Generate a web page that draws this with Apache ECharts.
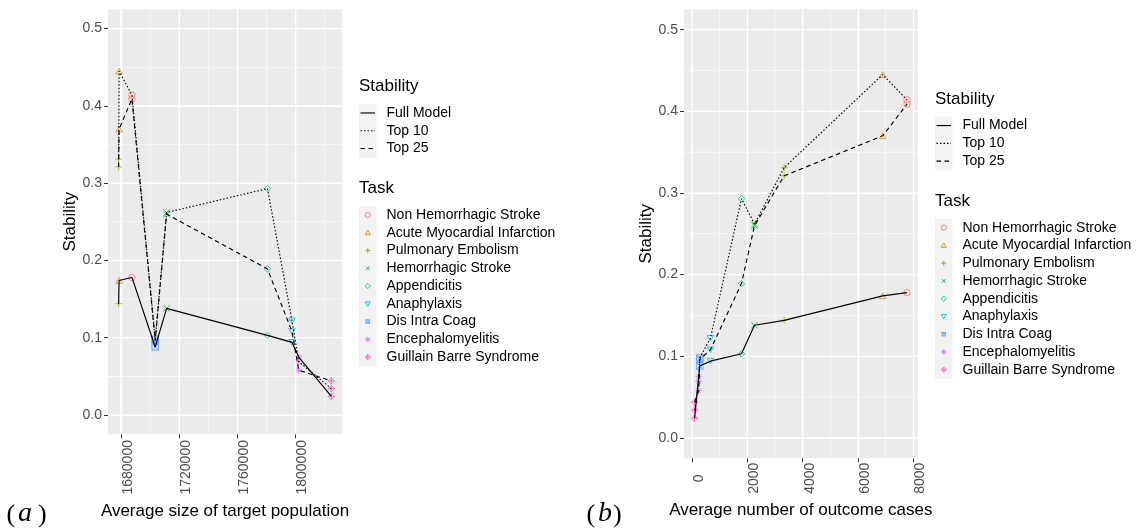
<!DOCTYPE html>
<html>
<head>
<meta charset="utf-8">
<script src="https://cdn.jsdelivr.net/npm/echarts@6/dist/echarts.min.js"></script>
<style>
html,body{margin:0;padding:0;background:#fff}
#chart{width:1143px;height:529px}
</style>
</head>
<body>
<div id="chart"></div>
<script>
// values
var tasks=['Non Hemorrhagic Stroke','Acute Myocardial Infarction','Pulmonary Embolism','Hemorrhagic Stroke','Appendicitis','Anaphylaxis','Dis Intra Coag','Encephalomyelitis','Guillain Barre Syndrome'];
var popSize=[1687550,1678700,1678400,1711350,1780650,1797530,1703530,1802130,1824560];
var outcomeCases=[7772,6892,3330,2259,1788,666,280,243,95];
var fullModel=[0.178,0.174,0.144,0.138,0.103,0.094,0.088,0.075,0.024];
var top10=[0.414,0.445,0.331,0.262,0.293,0.122,0.098,0.069,0.034];
var top25=[0.409,0.370,0.321,0.260,0.189,0.108,0.096,0.058,0.044];
var stabilityNames=['Full Model','Top 10','Top 25'];
var yTicks=[0,0.1,0.2,0.3,0.4,0.5];
var yMinor=[0.05,0.15,0.25,0.35,0.45];
var popTicks=[1680000,1720000,1760000,1800000];
var popMinor=[1700000,1740000,1780000,1820000];
var caseTicks=[0,2000,4000,6000,8000];
var caseMinor=[1000,3000,5000,7000];

var colors=['#F8766D','#D39200','#93AA00','#00BA38','#00C19F','#00B9E3','#619CFF','#DB72FB','#FF61C3'];
var shapes=[
 'M0,5A5,5,0,1,1,10,5A5,5,0,1,1,0,5Z',
 'M5,0L10,8.66L0,8.66Z',
 'M5,0L5,10M0,5L10,5',
 'M0,0L10,10M10,0L0,10',
 'M5,0L10,5L5,10L0,5Z',
 'M0,0L10,0L5,8.66Z',
 'M0,0L10,0L10,10L0,10ZM0,0L10,10M10,0L0,10',
 'M5,0L5,10M0,5L10,5M1.5,1.5L8.5,8.5M8.5,1.5L1.5,8.5',
 'M5,0L10,5L5,10L0,5ZM5,0L5,10M0,5L10,5'
];
var dashes=['solid',[1.5,2],[4.5,3.5]];
var font='"Liberation Sans", Arial, sans-serif';
var stabVals=[fullModel,top10,top25];
var panels=[{left:108,top:9.3,width:234,height:425},{left:684,top:9.3,width:233.7,height:449}];

function pad(arr){
 var lo=Math.min.apply(null,arr),hi=Math.max.apply(null,arr),s=(hi-lo)*0.05;
 return [lo-s,hi+s];
}
var popRange=pad(popSize),caseRange=pad(outcomeCases),yRange=[-0.025,0.525];

function pairs(xs,ys){
 var p=xs.map(function(x,i){return [x,ys[i]]});
 p.sort(function(a,b){return a[0]-b[0]});
 return p;
}

// white panel grid: thin rect symbols placed on the axis values
function gridLines(k,xRange,xMaj,xMin){
 var p=panels[k],out=[];
 var my=(yRange[0]+yRange[1])/2,mx=(xRange[0]+xRange[1])/2;
 function add(pts,size){
  out.push({type:'scatter',xAxisIndex:k,yAxisIndex:k,data:pts,symbol:'rect',symbolSize:size,z:3,
   itemStyle:{color:'#ffffff',opacity:1},emphasis:{disabled:true},tooltip:{show:false}});
 }
 add(xMin.map(function(v){return [v,my]}),[0.6,p.height]);
 add(yMinor.map(function(v){return [mx,v]}),[p.width,0.6]);
 add(xMaj.map(function(v){return [v,my]}),[1.2,p.height]);
 add(yTicks.map(function(v){return [mx,v]}),[p.width,1.2]);
 return out;
}

var series=[].concat(gridLines(0,popRange,popTicks,popMinor),gridLines(1,caseRange,caseTicks,caseMinor));
[popSize,outcomeCases].forEach(function(xs,k){
 tasks.forEach(function(t,i){
  series.push({type:'scatter',name:t,xAxisIndex:k,yAxisIndex:k,symbol:'path://'+shapes[i],symbolSize:6.5,symbolKeepAspect:true,
   itemStyle:{color:'rgba(0,0,0,0)',borderColor:colors[i],borderWidth:1},
   data:stabVals.map(function(v){return [xs[i],v[i]]}),z:3});
 });
 stabilityNames.forEach(function(n,j){
  series.push({type:'line',name:n,xAxisIndex:k,yAxisIndex:k,symbol:'none',
   lineStyle:{color:'#000',width:1.15,type:dashes[j]},data:pairs(xs,stabVals[j]),z:4});
 });
});

function xAx(g,range,ticks,name,margin,gap){
 return {type:'value',gridIndex:g,min:range[0],max:range[1],name:name,nameLocation:'middle',nameGap:gap,
  nameTextStyle:{fontSize:17,color:'#000',fontFamily:font},
  axisLine:{show:false,onZero:false},
  axisTick:{show:true,customValues:ticks,length:4,lineStyle:{color:'#333',width:1}},
  axisLabel:{customValues:ticks,rotate:90,align:'center',verticalAlign:'top',margin:margin,fontSize:14,color:'#4D4D4D',fontFamily:font,
   formatter:function(v){return String(v)}},
  splitLine:{show:true,lineStyle:{color:'#fff',width:1.2}}};
}
function yAx(g){
 return {type:'value',gridIndex:g,min:yRange[0],max:yRange[1],name:'Stability',nameLocation:'middle',nameGap:28,
  nameTextStyle:{fontSize:17,color:'#000',fontFamily:font},
  axisLine:{show:false,onZero:false},
  axisTick:{show:true,customValues:yTicks,length:4,lineStyle:{color:'#333',width:1}},
  axisLabel:{customValues:yTicks,margin:6,fontSize:14,color:'#4D4D4D',fontFamily:font,
   formatter:function(v){return v.toFixed(1)}},
  splitLine:{show:true,lineStyle:{color:'#fff',width:1.2}}};
}

// legend key symbols built from plain graphic shapes
function keySymbol(i,cx,cy,r,c){
 var st={fill:'none',stroke:c,lineWidth:0.9};
 function ln(x1,y1,x2,y2){return {type:'line',shape:{x1:cx+x1*r,y1:cy+y1*r,x2:cx+x2*r,y2:cy+y2*r},style:st}}
 function poly(pts){return {type:'polygon',shape:{points:pts.map(function(p){return [cx+p[0]*r,cy+p[1]*r]})},style:st}}
 var d=0.7;
 switch(i){
  case 0:return [{type:'circle',shape:{cx:cx,cy:cy,r:r},style:st}];
  case 1:return [poly([[0,-1],[0.95,0.75],[-0.95,0.75]])];
  case 2:return [ln(0,-1,0,1),ln(-1,0,1,0)];
  case 3:return [ln(-d,-d,d,d),ln(d,-d,-d,d)];
  case 4:return [poly([[0,-1],[1,0],[0,1],[-1,0]])];
  case 5:return [poly([[0,1],[0.95,-0.75],[-0.95,-0.75]])];
  case 6:return [poly([[-d,-d],[d,-d],[d,d],[-d,d]]),ln(-d,-d,d,d),ln(d,-d,-d,d)];
  case 7:return [ln(0,-1,0,1),ln(-1,0,1,0),ln(-d,-d,d,d),ln(d,-d,-d,d)];
  default:return [poly([[0,-1],[1,0],[0,1],[-1,0]]),ln(0,-1,0,1),ln(-1,0,1,0)];
 }
}

function legend(x0,y0){
 var els=[],kw=17.5,kh=17.75;
 els.push({type:'text',style:{text:'Stability',x:x0,y:y0,font:'17px '+font,fill:'#000',textVerticalAlign:'middle'}});
 var top=y0+17.4;
 stabilityNames.forEach(function(n,j){
  var y=top+j*kh;
  els.push({type:'rect',shape:{x:x0,y:y,width:kw,height:kh+0.5},style:{fill:'#F2F2F2'}});
  els.push({type:'line',shape:{x1:x0+1.5,y1:y+kh/2,x2:x0+kw-1.5,y2:y+kh/2},style:{stroke:'#000',lineWidth:1.1,lineDash:j?dashes[j]:null}});
  els.push({type:'text',style:{text:n,x:x0+27.5,y:y+kh/2,font:'14px '+font,fill:'#000',textVerticalAlign:'middle'}});
 });
 els.push({type:'text',style:{text:'Task',x:x0,y:y0+101.6,font:'17px '+font,fill:'#000',textVerticalAlign:'middle'}});
 top=y0+119.5;
 tasks.forEach(function(t,i){
  var y=top+i*kh;
  els.push({type:'rect',shape:{x:x0,y:y,width:kw,height:kh+0.5},style:{fill:'#F2F2F2'}});
  els=els.concat(keySymbol(i,x0+kw/2,y+kh/2,2.6,colors[i]));
  els.push({type:'text',style:{text:t,x:x0+27.5,y:y+kh/2,font:'14px '+font,fill:'#000',textVerticalAlign:'middle'}});
 });
 return els;
}
function panelTag(x,letter,w){
 var sf='"Liberation Serif", "DejaVu Serif", serif';
 return [
  {type:'text',style:{text:'(',x:x,y:515,font:'26px '+sf,fill:'#000',textVerticalAlign:'middle'}},
  {type:'text',style:{text:letter,x:x+11.5,y:514,font:'italic 28px '+sf,fill:'#000',textVerticalAlign:'middle'}},
  {type:'text',style:{text:')',x:x+11.5+w,y:515,font:'26px '+sf,fill:'#000',textVerticalAlign:'middle'}}
 ];
}

var chart=echarts.init(document.getElementById('chart'));
chart.setOption({
 animation:false,
 backgroundColor:'#fff',
 grid:panels.map(function(p){return {left:p.left,top:p.top,width:p.width,height:p.height,show:true,backgroundColor:'#EBEBEB',borderWidth:0}}),
 xAxis:[
  xAx(0,popRange,popTicks,'Average size of target population',33,65),
  xAx(1,caseRange,caseTicks,'Average number of outcome cases',20,41)
 ],
 yAxis:[yAx(0),yAx(1)],
 series:series,
 graphic:{elements:[].concat(legend(359,86.7),legend(935,99.3),panelTag(6.5,'a',20),panelTag(586.5,'b',15))}
});
</script>
</body>
</html>
